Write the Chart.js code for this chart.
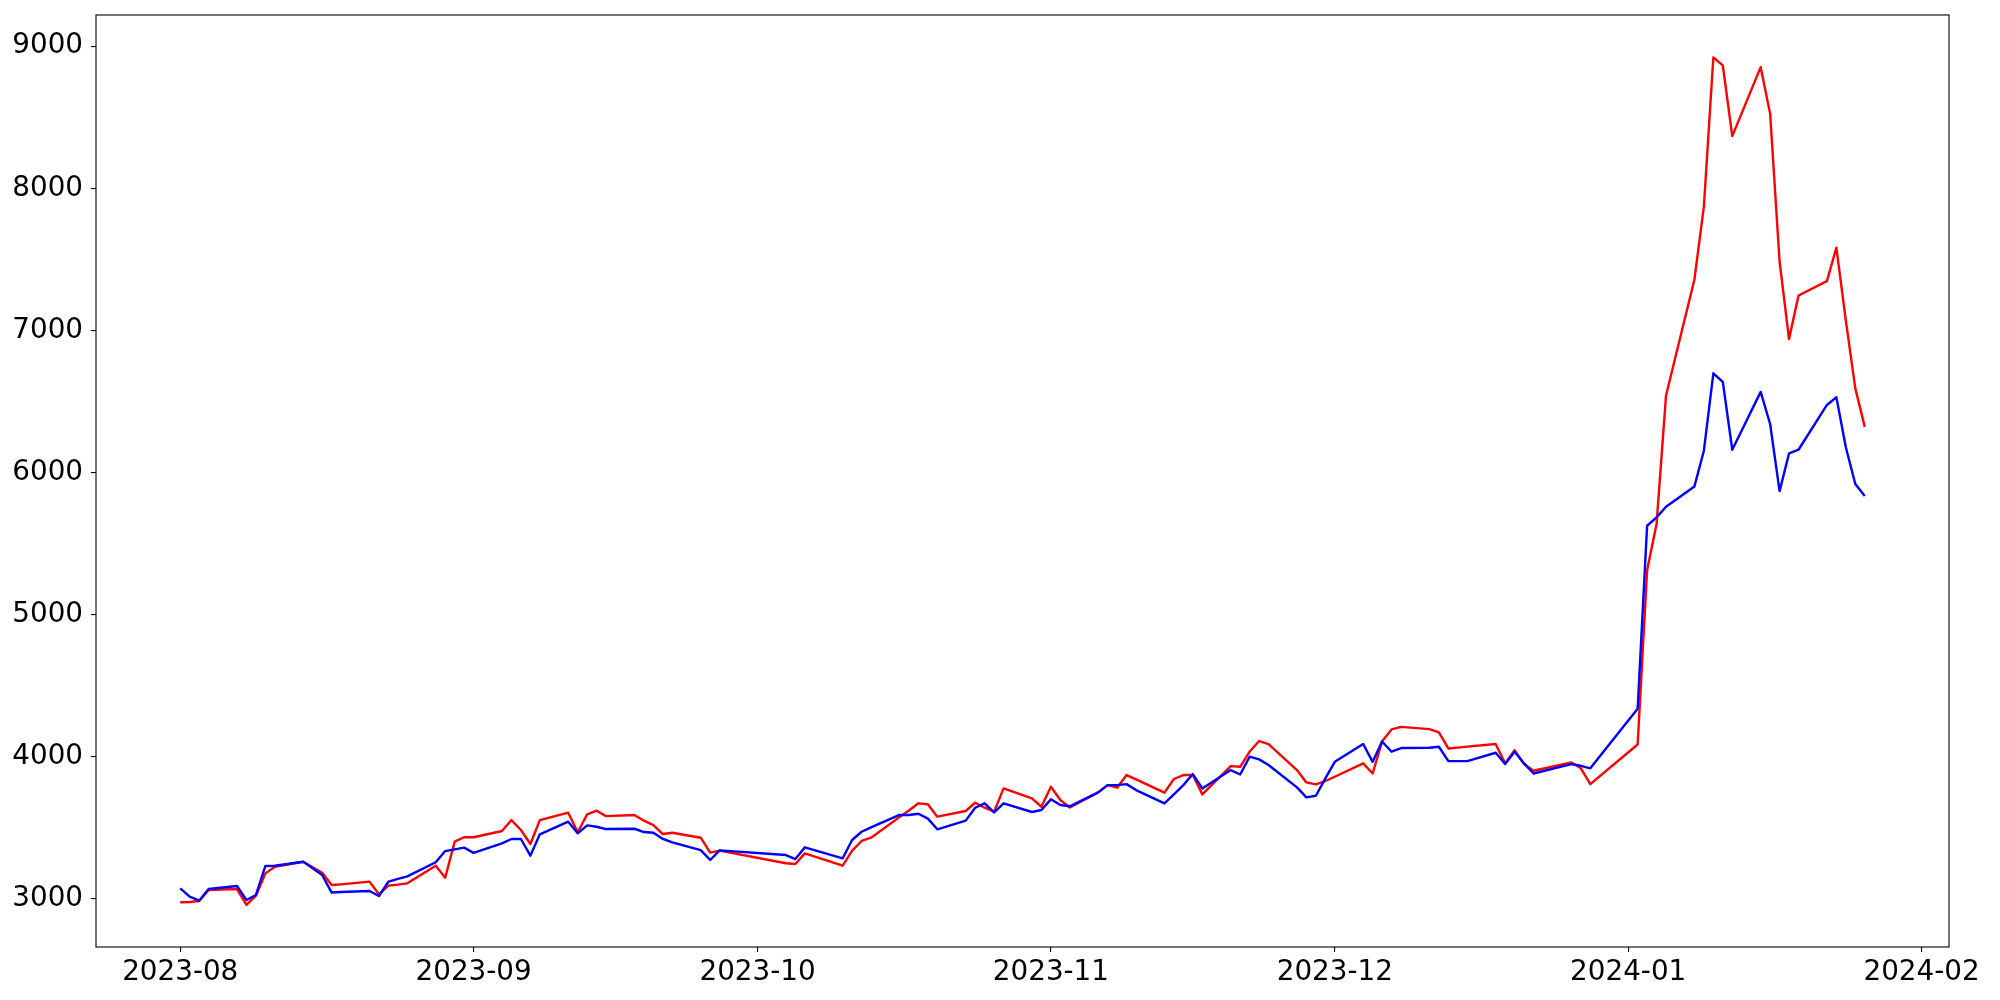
<!DOCTYPE html>
<html>
<head>
<meta charset="utf-8">
<script src="https://cdn.jsdelivr.net/npm/chart.js@4.4.1/dist/chart.umd.min.js"></script>
<style>
html,body{margin:0;padding:0;background:#fff;}
#wrap{width:2000px;height:1000px;}
</style>
</head>
<body>
<div id="wrap"><canvas id="c" width="2000" height="1000"></canvas></div>
<script>
const dates = [
 '2023-08-01','2023-08-02','2023-08-03','2023-08-04','2023-08-07','2023-08-08','2023-08-09','2023-08-10','2023-08-11',
 '2023-08-14','2023-08-16','2023-08-17','2023-08-18','2023-08-21','2023-08-22','2023-08-23','2023-08-24','2023-08-25',
 '2023-08-28','2023-08-29','2023-08-30','2023-08-31',
 '2023-09-01','2023-09-04','2023-09-05','2023-09-06','2023-09-07','2023-09-08','2023-09-11','2023-09-12','2023-09-13',
 '2023-09-14','2023-09-15','2023-09-18','2023-09-19','2023-09-20','2023-09-21','2023-09-22','2023-09-25','2023-09-26','2023-09-27',
 '2023-10-04','2023-10-05','2023-10-06','2023-10-10','2023-10-11','2023-10-12','2023-10-13','2023-10-16','2023-10-17',
 '2023-10-18','2023-10-19','2023-10-20','2023-10-23','2023-10-24','2023-10-25','2023-10-26','2023-10-27','2023-10-30','2023-10-31',
 '2023-11-01','2023-11-02','2023-11-03','2023-11-06','2023-11-07','2023-11-08','2023-11-09','2023-11-10','2023-11-13',
 '2023-11-14','2023-11-15','2023-11-16','2023-11-17','2023-11-20','2023-11-21','2023-11-22','2023-11-23','2023-11-24',
 '2023-11-27','2023-11-28','2023-11-29','2023-11-30',
 '2023-12-01','2023-12-04','2023-12-05','2023-12-06','2023-12-07','2023-12-08','2023-12-11','2023-12-12','2023-12-13',
 '2023-12-14','2023-12-15','2023-12-18','2023-12-19','2023-12-20','2023-12-21','2023-12-22','2023-12-26','2023-12-27','2023-12-28',
 '2024-01-02','2024-01-03','2024-01-04','2024-01-05','2024-01-08','2024-01-09','2024-01-10','2024-01-11','2024-01-12',
 '2024-01-15','2024-01-16','2024-01-17','2024-01-18','2024-01-19','2024-01-22','2024-01-23','2024-01-24','2024-01-25','2024-01-26'
];

const redValues = [
 2977,2979,2986,3063,3070,2958,3023,3180,3227,
 3262,3185,3098,3103,3122,3033,3094,3101,3110,
 3234,3150,3403,3434,
 3434,3478,3555,3485,3387,3555,3607,3469,3595,
 3621,3583,3591,3551,3520,3457,3466,3431,3326,3340,
 3251,3246,3321,3234,3340,3408,3431,3576,3623,
 3673,3666,3579,3619,3677,3642,3614,3778,3708,3649,
 3790,3696,3644,3750,3801,3783,3872,3841,3748,
 3844,3872,3872,3736,3935,3930,4036,4111,4090,
 3907,3820,3806,3830,
 3860,3954,3883,4110,4193,4211,4195,4172,4059,
 4065,4072,4090,3954,4047,3949,3902,3961,3919,3808,
 4087,5313,5639,6543,7359,7874,8921,8866,8368,
 8853,8526,7484,6940,7246,7347,7583,7070,6593,6322
];

const blueValues = [
 3075,3016,2988,3070,3091,2993,3028,3232,3234,
 3262,3169,3045,3049,3056,3021,3122,3141,3159,
 3258,3337,3349,3361,
 3324,3391,3422,3422,3305,3455,3544,3462,3518,
 3508,3492,3494,3471,3466,3422,3398,3344,3274,3342,
 3309,3281,3363,3286,3415,3473,3504,3591,3591,
 3600,3565,3490,3551,3642,3673,3609,3673,3612,3626,
 3701,3661,3652,3750,3801,3801,3808,3766,3673,
 3736,3801,3879,3778,3907,3876,4001,3982,3943,
 3785,3715,3726,3848,
 3965,4090,3965,4108,4036,4062,4064,4071,3970,
 3970,3970,4029,3949,4036,3954,3883,3949,3937,3919,
 4338,5626,5685,5760,5903,6154,6699,6639,6161,
 6568,6342,5870,6136,6161,6476,6530,6179,5920,5835
];

const xTickLabels = ['2023-08','2023-09','2023-10','2023-11','2023-12','2024-01','2024-02'];
const yTickValues = [3000,4000,5000,6000,7000,8000,9000];

const BASE = Date.UTC(2023,7,1);
function dayOf(s){ const p = s.split('-').map(Number); return (Date.UTC(p[0],p[1]-1,p[2]) - BASE)/86400000; }
const xs = dates.map(dayOf);
const xTickPos = xTickLabels.map(m => dayOf(m + '-01'));

const redData = xs.map((x,i)=>({x:x, y:redValues[i]}));
const blueData = xs.map((x,i)=>({x:x, y:blueValues[i]}));

const FONT = {family:'DejaVu Sans', size:27.8};

const frame = {
  id:'frame',
  afterDraw(chart){
    const a = chart.chartArea, ctx = chart.ctx;
    ctx.save();
    ctx.strokeStyle = '#000';
    ctx.lineWidth = 1.1;
    ctx.strokeRect(a.left, a.top, a.right - a.left, a.bottom - a.top);
    ctx.restore();
  }
};

new Chart(document.getElementById('c'), {
  type:'line',
  data:{
    datasets:[
      {label:'blue', data:blueData, borderColor:'#0000ff', borderWidth:2.4, pointRadius:0, tension:0, fill:false, borderJoinStyle:'round'},
      {label:'red', data:redData, borderColor:'#ff0000', borderWidth:2.4, pointRadius:0, tension:0, fill:false, borderJoinStyle:'round'}
    ]
  },
  options:{
    responsive:false,
    animation:false,
    layout:{padding:{left:0, top:15, right:51, bottom:0}},
    plugins:{legend:{display:false}, tooltip:{enabled:false}},
    scales:{
      x:{
        type:'linear',
        min:-8.9, max:186.9,
        afterBuildTicks(scale){ scale.ticks = xTickPos.map(v=>({value:v})); },
        afterFit(scale){ scale.height = 53; scale.paddingLeft = 0; scale.paddingRight = 0; },
        ticks:{
          autoSkip:false, maxRotation:0, padding:4, color:'#000', font:FONT,
          callback(v){ const i = xTickPos.indexOf(v); return i >= 0 ? xTickLabels[i] : ''; }
        },
        grid:{display:true, drawOnChartArea:false, drawTicks:true, tickLength:5, color:'#000', lineWidth:1.1},
        border:{display:false}
      },
      y:{
        type:'linear',
        min:2662, max:9220,
        afterBuildTicks(scale){ scale.ticks = yTickValues.map(v=>({value:v})); },
        afterFit(scale){ scale.width = 96; scale.paddingTop = 0; scale.paddingBottom = 0; },
        ticks:{autoSkip:false, padding:8, color:'#000', font:FONT, callback(v){ return String(v); }},
        grid:{display:true, drawOnChartArea:false, drawTicks:true, tickLength:5, color:'#000', lineWidth:1.1},
        border:{display:false}
      }
    }
  },
  plugins:[frame]
});
</script>
</body>
</html>
